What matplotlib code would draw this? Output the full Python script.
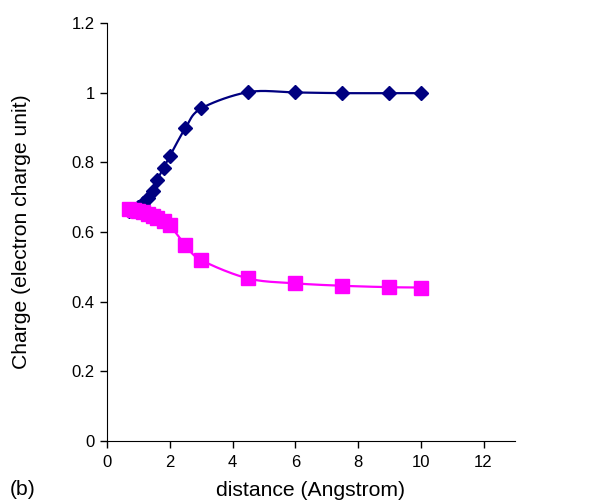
import numpy as np
import matplotlib
matplotlib.use('Agg')
import matplotlib.pyplot as plt

plt.rcParams['font.family'] = ['Liberation Sans', 'DejaVu Sans']

# distance (Angstrom)
distance = [0.7, 0.85, 1.0, 1.15, 1.3, 1.45, 1.6, 1.8, 2.0, 2.5, 3.0, 4.5, 6.0, 7.5, 9.0, 10.0]
# charge on the two fragments
charge_blue = [0.662, 0.665, 0.672, 0.683, 0.698, 0.717, 0.750, 0.784, 0.818, 0.899, 0.955,
               1.002, 1.001, 0.999, 0.999, 0.999]
charge_pink = [0.665, 0.663, 0.660, 0.657, 0.652, 0.647, 0.641, 0.633, 0.620, 0.563, 0.520,
               0.467, 0.453, 0.446, 0.442, 0.441]

x_ticks = [0, 2, 4, 6, 8, 10, 12]
y_ticks = [0, 0.2, 0.4, 0.6, 0.8, 1.0, 1.2]
y_labels = ['0', '0.2', '0.4', '0.6', '0.8', '1', '1.2']


def smooth(x, y, n=20):
    """Catmull-Rom curve through the points, like a spreadsheet smoothed line."""
    x = np.asarray(x, float)
    y = np.asarray(y, float)
    px = np.concatenate([[2 * x[0] - x[1]], x, [2 * x[-1] - x[-2]]])
    py = np.concatenate([[2 * y[0] - y[1]], y, [2 * y[-1] - y[-2]]])
    xs, ys = [], []
    t = np.linspace(0, 1, n)
    for i in range(1, len(px) - 2):
        for p, out in ((px, xs), (py, ys)):
            p0, p1, p2, p3 = p[i - 1], p[i], p[i + 1], p[i + 2]
            out.extend(0.5 * ((2 * p1) + (-p0 + p2) * t
                              + (2 * p0 - 5 * p1 + 4 * p2 - p3) * t ** 2
                              + (-p0 + 3 * p1 - 3 * p2 + p3) * t ** 3))
    return xs, ys


fig = plt.figure(figsize=(5.98, 5.03), dpi=100)
ax = fig.add_axes([0.179, 0.123, 0.682, 0.831])

sx, sy = smooth(distance, charge_blue)
ax.plot(sx, sy, color='#000080', lw=1.6)
ax.plot(distance, charge_blue, ls='none', marker='D', ms=7, color='#000080')

sx, sy = smooth(distance, charge_pink)
ax.plot(sx, sy, color='#FF00FF', lw=1.6)
ax.plot(distance, charge_pink, ls='none', marker='s', ms=9.5, color='#FF00FF')

ax.set_xlim(0, 13)
ax.set_ylim(0, 1.2)
ax.set_xticks(x_ticks)
ax.set_yticks(y_ticks)
ax.set_yticklabels(y_labels)
ax.tick_params(direction='out', length=5, width=1, labelsize=12, colors='black')
ax.tick_params(axis='x', pad=5)
ax.tick_params(axis='y', pad=4)

ax.spines['top'].set_visible(False)
ax.spines['right'].set_visible(False)

ax.set_xlabel('distance (Angstrom)', fontsize=15.2)
ax.set_ylabel('Charge (electron charge unit)', fontsize=15.2)
ax.xaxis.set_label_coords(0.5, -0.117)
ax.yaxis.set_label_coords(-0.21, 0.5)
ax.xaxis.label.set_va('center')
ax.yaxis.label.set_va('center')
fig.text(0.037, 0.026, '(b)', fontsize=15.2, ha='center', va='center')

plt.savefig('out.png', dpi=100)
plt.close()
